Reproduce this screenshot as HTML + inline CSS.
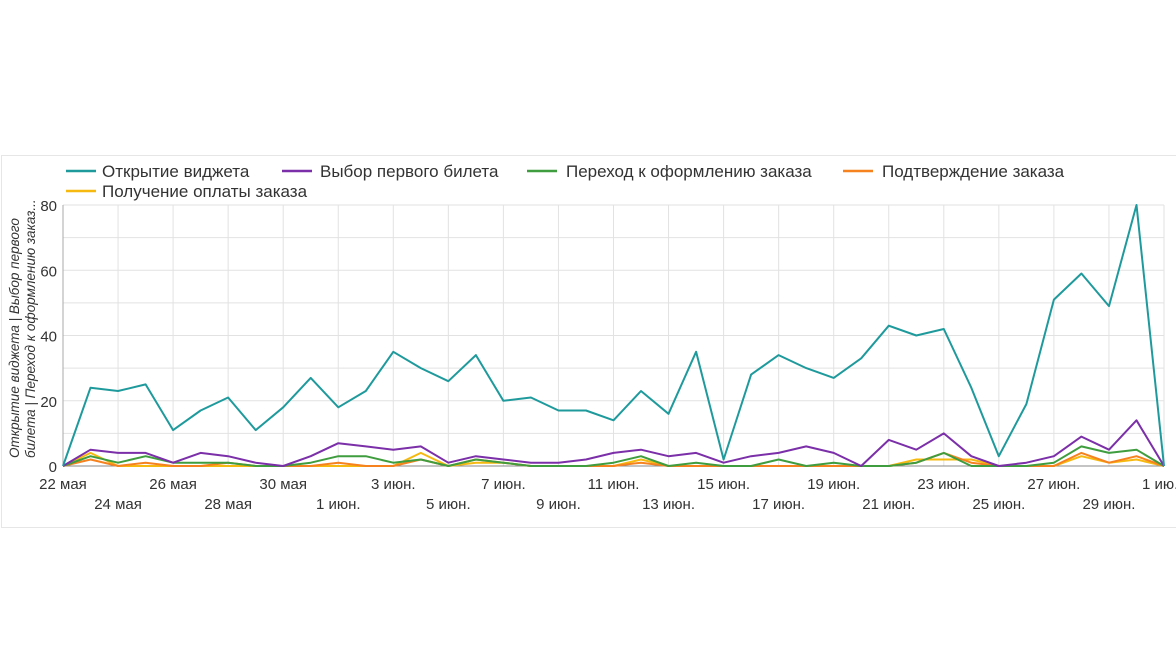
<!DOCTYPE html>
<html><head><meta charset="utf-8"><style>
html,body{margin:0;padding:0;background:#fff;}
svg{display:block;font-family:"Liberation Sans",sans-serif;}
</style></head><body>
<svg id="s" width="1176" height="662" xmlns="http://www.w3.org/2000/svg">
<rect x="1.5" y="155.5" width="1180" height="372" fill="#fff" stroke="#e6e6e6"/>
<g font-size="17" fill="#333">
<line x1="66" y1="171" x2="96" y2="171" stroke="#1f9a9c" stroke-width="2.5"/><text x="102" y="177">Открытие виджета</text>
<line x1="282" y1="171" x2="312" y2="171" stroke="#7b2fa8" stroke-width="2.5"/><text x="320" y="177">Выбор первого билета</text>
<line x1="527" y1="171" x2="557" y2="171" stroke="#3f9d3f" stroke-width="2.5"/><text x="566" y="177">Переход к оформлению заказа</text>
<line x1="843" y1="171" x2="873" y2="171" stroke="#f5821f" stroke-width="2.5"/><text x="882" y="177">Подтверждение заказа</text>
<line x1="66" y1="191" x2="96" y2="191" stroke="#f5b90f" stroke-width="2.5"/><text x="102" y="197">Получение оплаты заказа</text>
</g>
<g font-size="13.5" font-style="italic" fill="#333">
<text transform="translate(19,458) rotate(-90)">Открытие виджета | Выбор первого</text>
<text transform="translate(35,458) rotate(-90)">билета | Переход к оформлению заказ...</text>
</g>
<g id="grid"></g>
<g id="lines"></g>
<g id="lab" font-size="15" fill="#333"></g>
</svg>
<script>
(function(){
var X0=63,DX=27.525,Y0=466,SY=261/80;
var ns="http://www.w3.org/2000/svg";
function el(p,t,a,txt){var e=document.createElementNS(ns,t);for(var k in a)e.setAttribute(k,a[k]);if(txt!=null)e.textContent=txt;document.getElementById(p).appendChild(e);}
for(var v=10;v<=80;v+=10){var y=Y0-v*SY;el("grid","line",{x1:X0,x2:1164,y1:y,y2:y,stroke:"#e2e2e2","stroke-width":1});}
for(var i=2;i<=40;i+=2){var x=X0+i*DX;el("grid","line",{x1:x,x2:x,y1:205,y2:466,stroke:"#e2e2e2","stroke-width":1});}
el("grid","line",{x1:X0,x2:X0,y1:205,y2:466,stroke:"#aaa","stroke-width":1});
el("grid","line",{x1:X0,x2:1164,y1:466,y2:466,stroke:"#888","stroke-width":1});
for(var v=0;v<=80;v+=20){el("lab","text",{x:57,y:Y0-v*SY+6,"text-anchor":"end","font-size":"15"},String(v));}
var tl=["22 мая","26 мая","30 мая","3 июн.","7 июн.","11 июн.","15 июн.","19 июн.","23 июн.","27 июн.","1 июл."];
var bl=["24 мая","28 мая","1 июн.","5 июн.","9 июн.","13 июн.","17 июн.","21 июн.","25 июн.","29 июн."];
tl.forEach(function(t,k){var x=X0+k*4*DX;if(k==10){el("lab","text",{x:1142,y:489},"1 ию.");}else el("lab","text",{x:x,y:489,"text-anchor":"middle"},t);});
bl.forEach(function(t,k){el("lab","text",{x:X0+(2+k*4)*DX,y:509,"text-anchor":"middle"},t);});
var S=[
["#f5b90f",[0,4,0,0,0,0,0,0,0,0,0,0,0,4,0,1,1,0,0,0,0,2,0,0,0,0,0,0,0,0,0,2,2,2,0,0,0,3,1,2,0]],
["#f5821f",[0,2,0,1,0,0,1,0,0,0,1,0,0,2,0,2,1,0,0,0,0,1,0,0,0,0,0,0,0,0,0,1,4,1,0,0,0,4,1,3,0]],
["#3f9d3f",[0,3,1,3,1,1,1,0,0,1,3,3,1,2,0,2,1,0,0,0,1,3,0,1,0,0,2,0,1,0,0,1,4,0,0,0,1,6,4,5,0]],
["#7b2fa8",[0,5,4,4,1,4,3,1,0,3,7,6,5,6,1,3,2,1,1,2,4,5,3,4,1,3,4,6,4,0,8,5,10,3,0,1,3,9,5,14,0]],
["#1f9a9c",[0,24,23,25,11,17,21,11,18,27,18,23,35,30,26,34,20,21,17,17,14,23,16,35,2,28,34,30,27,33,43,40,42,24,3,19,51,59,49,80,0]]
];
S.forEach(function(s){var p=s[1].map(function(v,i){return (X0+i*DX).toFixed(1)+","+(Y0-v*SY).toFixed(1);}).join(" ");
el("lines","polyline",{points:p,fill:"none",stroke:s[0],"stroke-width":2,"stroke-linejoin":"round"});});
})();
</script>
</body></html>
